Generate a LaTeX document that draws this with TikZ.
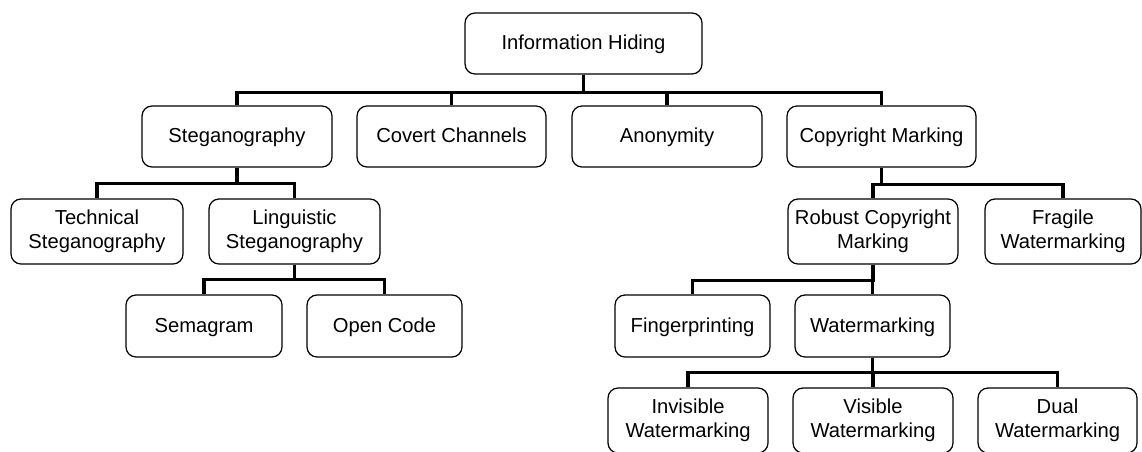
\documentclass[tikz,border=0pt]{standalone}
\usepackage{fontspec}
\setmainfont{Liberation Sans}
\usepackage{tikz}

\begin{document}
\begin{tikzpicture}[
        x=0.02cm, y=-0.02cm,
        box/.style={
            draw,
            rectangle,
            rounded corners=0.2cm,
            line width=0.7pt,
            align=center,
            inner sep=0pt,
            text height=0.72em,
            text depth=0pt,
            minimum height=1.22cm,
            font=\fontsize{11.5}{13.7}\selectfont
        },
        tallbox/.style={
            box,
            text height={},
            text depth={},
            minimum height=1.3cm
        },
        link/.style={
            line width=1.8pt
        }
    ]
    \useasboundingbox (0,0) rectangle (1142,451);

    \node[box, minimum width=4.74cm] (root) at (583.5, 43.5) {Information Hiding};

    \node[box, minimum width=3.8cm] (steg) at (237, 136.5) {Steganography};
    \node[box, minimum width=3.78cm] (covert) at (451.5, 136.5) {Covert Channels};
    \node[box, minimum width=3.8cm] (anon) at (667, 136.5) {Anonymity};
    \node[box, minimum width=3.78cm] (copy) at (881.5, 136.5) {Copyright Marking};

    \node[tallbox, minimum width=3.44cm] (tech) at (97, 231.5) {Technical\\Steganography};
    \node[tallbox, minimum width=3.42cm] (ling) at (294.5, 231.5) {Linguistic\\Steganography};
    \node[box, minimum width=3.12cm, minimum height=1.24cm] (sema) at (204, 326) {Semagram};
    \node[box, minimum width=3.1cm, minimum height=1.24cm] (open) at (384.5, 326) {Open Code};

    \node[tallbox, minimum width=3.4cm] (robust) at (873, 231.5) {Robust Copyright\\Marking};
    \node[tallbox, minimum width=3.12cm] (fragile) at (1063, 231.5) {Fragile\\Watermarking};
    \node[box, minimum width=3.1cm, minimum height=1.24cm] (finger) at (692.5, 326) {Fingerprinting};
    \node[box, minimum width=3.1cm, minimum height=1.24cm] (water) at (872.5, 326) {Watermarking};

    \node[tallbox, minimum width=3.2cm] (invis) at (688, 420.5) {Invisible\\Watermarking};
    \node[tallbox, minimum width=3.2cm] (visib) at (873, 420.5) {Visible\\Watermarking};
    \node[tallbox, minimum width=3.18cm] (dual) at (1057.5, 420.5) {Dual\\Watermarking};

    % tree connectors
    \foreach \kid in {steg, covert, anon, copy}
        \draw[link] (root.south) -- ++(0,18) -| (\kid.north);
    \foreach \kid in {tech, ling}
        \draw[link] (steg.south) -- ++(0,16) -| (\kid.north);
    \foreach \kid in {sema, open}
        \draw[link] (ling.south) -- ++(0,15) -| (\kid.north);
    \foreach \kid in {robust, fragile}
        \draw[link] (copy.south) -- ++(0,17) -| (\kid.north);
    \foreach \kid in {finger, water}
        \draw[link] (robust.south) -- ++(0,16) -| (\kid.north);
    \foreach \kid in {invis, visib, dual}
        \draw[link] (water.south) -- ++(0,15) -| (\kid.north);

\end{tikzpicture}
\end{document}
